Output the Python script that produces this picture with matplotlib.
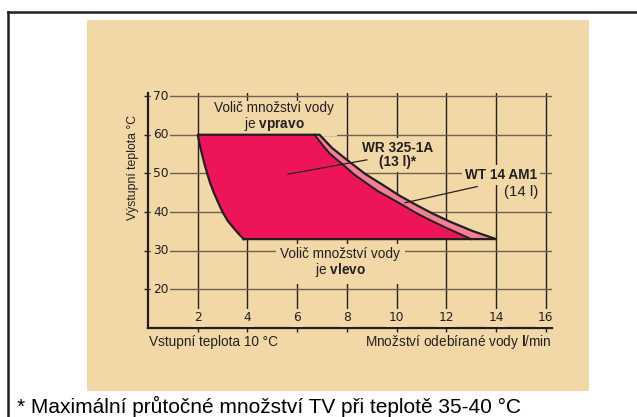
import matplotlib
matplotlib.use("Agg")
import matplotlib.pyplot as plt
from matplotlib.lines import Line2D
from matplotlib.patches import Rectangle

plt.rcParams['font.family'] = ['Liberation Sans', 'DejaVu Sans']
plt.rcParams['mathtext.fontset'] = 'custom'
plt.rcParams['mathtext.rm'] = 'Liberation Sans'
plt.rcParams['mathtext.bf'] = 'Liberation Sans:bold'

# data
x_ticks = [2, 4, 6, 8, 10, 12, 14, 16]
y_ticks = [20, 30, 40, 50, 60, 70]

# left edge (both units)
left_x = [2.0, 2.08, 2.17, 2.27, 2.38, 2.5, 2.65, 2.82, 3.0, 3.2, 3.4, 3.6, 3.85]
left_y = [60, 57.5, 55, 52.5, 50, 47.5, 45, 42.5, 40, 37.8, 36.2, 34.7, 33]
# WR 325-1A (13 l)
wr_x = [6.7, 7.0, 7.3, 7.85, 8.3, 8.8, 9.25, 9.75, 10.3, 10.8, 11.35, 11.9, 12.45, 13.0]
wr_y = [60, 57.5, 55.2, 52.2, 49.7, 47.4, 45.4, 43.6, 41.6, 39.7, 37.9, 36.2, 34.6, 33]
# WT 14 AM1 (14 l)
wt_x = [6.9, 7.4, 8.1, 8.75, 9.45, 10.1, 10.8, 11.45, 12.15, 13.05, 14.0]
wt_y = [60, 56.6, 53, 49.8, 47, 44.3, 41.8, 39.6, 37.5, 35.1, 33]

beige = '#f2d7a7'
magenta = '#ed1558'
pink = '#f27f96'
dark = '#231f20'

fig = plt.figure(figsize=(6.37, 4.17), dpi=100)
fig.patch.set_facecolor('white')

# beige panel and outer frame
fig.add_artist(Rectangle((0.1366, 0.0624), 0.788, 0.8897, transform=fig.transFigure,
                         facecolor=beige, edgecolor='none', zorder=0))
fig.add_artist(Line2D([8/637, 1.0], [1-12/417, 1-12/417], transform=fig.transFigure,
                      color=dark, lw=1.8))
fig.add_artist(Line2D([8/637, 8/637], [1-12/417, 0], transform=fig.transFigure,
                      color=dark, lw=1.8))

ax = fig.add_axes([0.2323, 0.2134, 0.8666 - 0.2323, 0.5636])
ax.set_facecolor('none')
ax.set_xlim(0, 16.25)
ax.set_ylim(10, 70.8)

for s in ['top', 'right']:
    ax.spines[s].set_visible(False)
for s in ['left', 'bottom']:
    ax.spines[s].set_linewidth(1.6)
    ax.spines[s].set_color(dark)

ax.set_xticks(x_ticks)
ax.set_yticks(y_ticks)
ax.set_xticklabels([])
ax.set_yticklabels([])
ax.tick_params(length=3, width=1, color=dark)
for x in x_ticks:
    ax.axvline(x, color=dark, lw=1.0, zorder=0.5)
for y in y_ticks:
    ax.axhline(y, color='#6e6352', lw=1.0, zorder=0.5)

# tick labels inside the axes
for y in y_ticks:
    ax.text(0.2, y, str(y), ha='left', va='center', fontsize=8.8, family='DejaVu Sans',
            color=dark, zorder=3,
            bbox=dict(boxstyle='square,pad=0.15', fc=beige, ec='none'))
for x in x_ticks:
    ax.text(x, 12.6, str(x), ha='center', va='center', fontsize=8.8, family='DejaVu Sans',
            color=dark, zorder=3,
            bbox=dict(boxstyle='square,pad=0.2', fc=beige, ec='none'))

# areas
wt_poly_x = left_x[::-1] + wt_x
wt_poly_y = left_y[::-1] + wt_y
wr_poly_x = left_x[::-1] + wr_x
wr_poly_y = left_y[::-1] + wr_y
ax.fill(wt_poly_x, wt_poly_y, color=pink, zorder=2, lw=0)
ax.fill(wr_poly_x, wr_poly_y, color=magenta, zorder=2, lw=0)
ax.plot(wt_poly_x + [left_x[-1]], wt_poly_y + [left_y[-1]], color=dark, lw=1.6,
        zorder=2.5, solid_joinstyle='round')
ax.plot(wr_x, wr_y, color=dark, lw=1.4, zorder=2.5, solid_joinstyle='round')

# annotations
ax.plot([5.63, 8.8], [49.8, 53.5], color=dark, lw=0.9, zorder=2.6)
ax.plot([10.34, 13.24], [42.4, 46.6], color=dark, lw=0.9, zorder=2.6)

ax.text(5.08, 64.5, 'Volič množství vody\nje $\\mathbf{vpravo}$', ha='center', va='center',
        fontsize=9.8, linespacing=1.0, color=dark, zorder=1.5,
        bbox=dict(boxstyle='square,pad=0.2', fc=beige, ec='none'))
ax.text(7.74, 26.85, 'Volič množství vody\nje $\\mathbf{vlevo}$', ha='center', va='center',
        fontsize=9.8, linespacing=1.0, color=dark, zorder=1.5,
        bbox=dict(boxstyle='square,pad=0.35', fc=beige, ec='none'))
ax.text(10.05, 54.8, 'WR 325-1A\n(13 l)*', ha='center', va='center', fontsize=9.8,
        fontweight='bold', linespacing=1.05, color=dark, zorder=1.5,
        bbox=dict(boxstyle='square,pad=0.2', fc=beige, ec='none'))
ax.text(14.2, 49.6, 'WT 14 AM1', ha='center', va='center', fontsize=9.8,
        fontweight='bold', color=dark, zorder=1.5,
        bbox=dict(boxstyle='square,pad=0.2', fc=beige, ec='none'))
ax.text(15.0, 45.3, '(14 l)', ha='center', va='center', fontsize=10.8,
        color=dark, zorder=1.5,
        bbox=dict(boxstyle='square,pad=0.15', fc=beige, ec='none'))

# axis captions
fig.text(149/637, 1-342/417, 'Vstupní teplota 10 °C', ha='left', va='center',
         fontsize=9.8, color=dark)
fig.text(552/637, 1-342/417, 'Množství odebírané vody $\\mathbf{l}$/min', ha='right',
         va='center', fontsize=9.8, color=dark)
fig.text(133/637, 1-167/417, 'Výstupní teplota °C', rotation=90, ha='center', va='center',
         fontsize=8.8, color=dark)

fig.text(17/637, 1-413/417, '* Maximální průtočné množství TV při teplotě 35-40 °C',
         ha='left', va='baseline', fontsize=15, color='black')

fig.savefig('out.png', dpi=100)
